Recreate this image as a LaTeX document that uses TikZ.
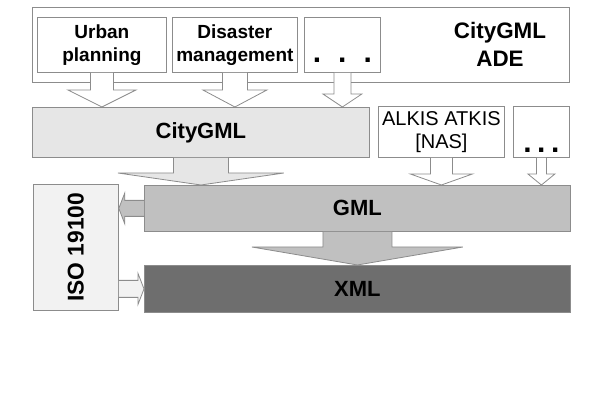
\documentclass[tikz,border=0pt]{standalone}
\usepackage{fontspec}
\setmainfont{Liberation Sans}
\usepackage{tikz}
\usetikzlibrary{calc,backgrounds}
\usepackage{xcolor}
\definecolor{citybg}{HTML}{E6E6E6}
\definecolor{gmlbg}{HTML}{C0C0C0}
\definecolor{xmlbg}{HTML}{6E6E6E}
\definecolor{isobg}{HTML}{F2F2F2}
\definecolor{edge}{HTML}{8C8C8C}

\tikzset{
  box/.style={draw=edge, thin, anchor=north west, inner sep=0pt, align=center,
    font=\bfseries\fontsize{9.5}{11.5}\selectfont},
  bigbox/.style={box, font=\bfseries\fontsize{11}{13}\selectfont},
  blkarrow/.style={draw=edge, thin, line join=miter},
}

% block arrow: start, end, shaft half width, head half width, head length, fill
\newcommand{\blk}[6]{%
  \path #1 coordinate (bs) #2 coordinate (bt);
  \path ($(bt)!#5!(bs)$) coordinate (bh);
  \filldraw[blkarrow, fill=#6]
    ($(bs)!#3!-90:(bt)$) -- ($(bh)!#3!-90:(bt)$) -- ($(bh)!#4!-90:(bt)$)
    -- (bt) -- ($(bh)!#4!90:(bt)$) -- ($(bh)!#3!90:(bt)$) -- ($(bs)!#3!90:(bt)$);
}
\newcommand{\bigdots}[1]{{\fontsize{15}{11.5}\selectfont .\hspace{#1}.\hspace{#1}.}}

\begin{document}
\begin{tikzpicture}[x=0.5pt, y=-0.5pt]
  \useasboundingbox (0,0) rectangle (600,400);

  % ADE layer
  \begin{pgfonlayer}{background}
    \node[box, fill=white, minimum width=268.5pt, minimum height=37.5pt] (ade) at (32,7) {};
  \end{pgfonlayer}
  \node[box, fill=white, minimum width=64.5pt, minimum height=27.5pt] (urban) at (37,17) {Urban\\planning};
  \node[box, fill=white, minimum width=62.5pt, minimum height=27.5pt] (disaster) at (172,17) {Disaster\\management};
  \node[box, fill=white, minimum width=38pt, minimum height=27.5pt] (more1) at (304,17)
    {\vphantom{X}\\\bigdots{8.5pt}};
  \node[font=\bfseries\fontsize{11.2}{14}\selectfont, align=center] (adelbl) at (500,44) {CityGML\\ADE};

  % application schemas
  \node[bigbox, fill=citybg, minimum width=168.5pt, minimum height=25pt] (city) at (32,107) {CityGML};
  \node[box, fill=white, font=\fontsize{10}{11.5}\selectfont, minimum width=63pt, minimum height=25.5pt]
    (alkis) at (378,106) {ALKIS ATKIS\\{[NAS]}};
  \node[bigbox, fill=white, minimum width=28pt, minimum height=25.5pt] (more2) at (513,106)
    {\vphantom{X}\\\bigdots{2.8pt}};

  % base standards
  \node[bigbox, fill=gmlbg, minimum width=213pt, minimum height=23pt] (gml) at (144,185) {GML};
  \node[bigbox, fill=xmlbg, minimum width=213pt, minimum height=23.5pt] (xml) at (144,265) {XML};
  \node[bigbox, fill=isobg, font=\bfseries\fontsize{11.4}{13}\selectfont, minimum width=42.5pt, minimum height=63pt]
    (iso) at (33,184) {\rotatebox{90}{ISO 19100}};

  % arrows
  \blk{(urban.south)}{(urban.south |- city.north)}{5.75pt}{17pt}{8.5pt}{white}
  \blk{(disaster.south)}{(disaster.south |- city.north)}{6.25pt}{16pt}{8.5pt}{white}
  \blk{(more1.south)}{(more1.south |- city.north)}{4.25pt}{9.75pt}{6.5pt}{white}
  \blk{(city.south)}{(city.south |- gml.north)}{13.75pt}{41.5pt}{6pt}{citybg}
  \blk{(alkis.south)}{(alkis.south |- gml.north)}{5.5pt}{15.5pt}{5.5pt}{white}
  \blk{(more2.south)}{(more2.south |- gml.north)}{2.5pt}{6.75pt}{5.5pt}{white}
  \blk{(gml.south)}{(gml.south |- xml.north)}{17.25pt}{52.75pt}{9pt}{gmlbg}
  \blk{(gml.west)}{(gml.west -| iso.east)}{4pt}{7.75pt}{3pt}{gmlbg}
  \blk{(iso.east |- xml.west)}{(xml.west)}{4.25pt}{7.75pt}{3pt}{isobg}
\end{tikzpicture}
\end{document}
